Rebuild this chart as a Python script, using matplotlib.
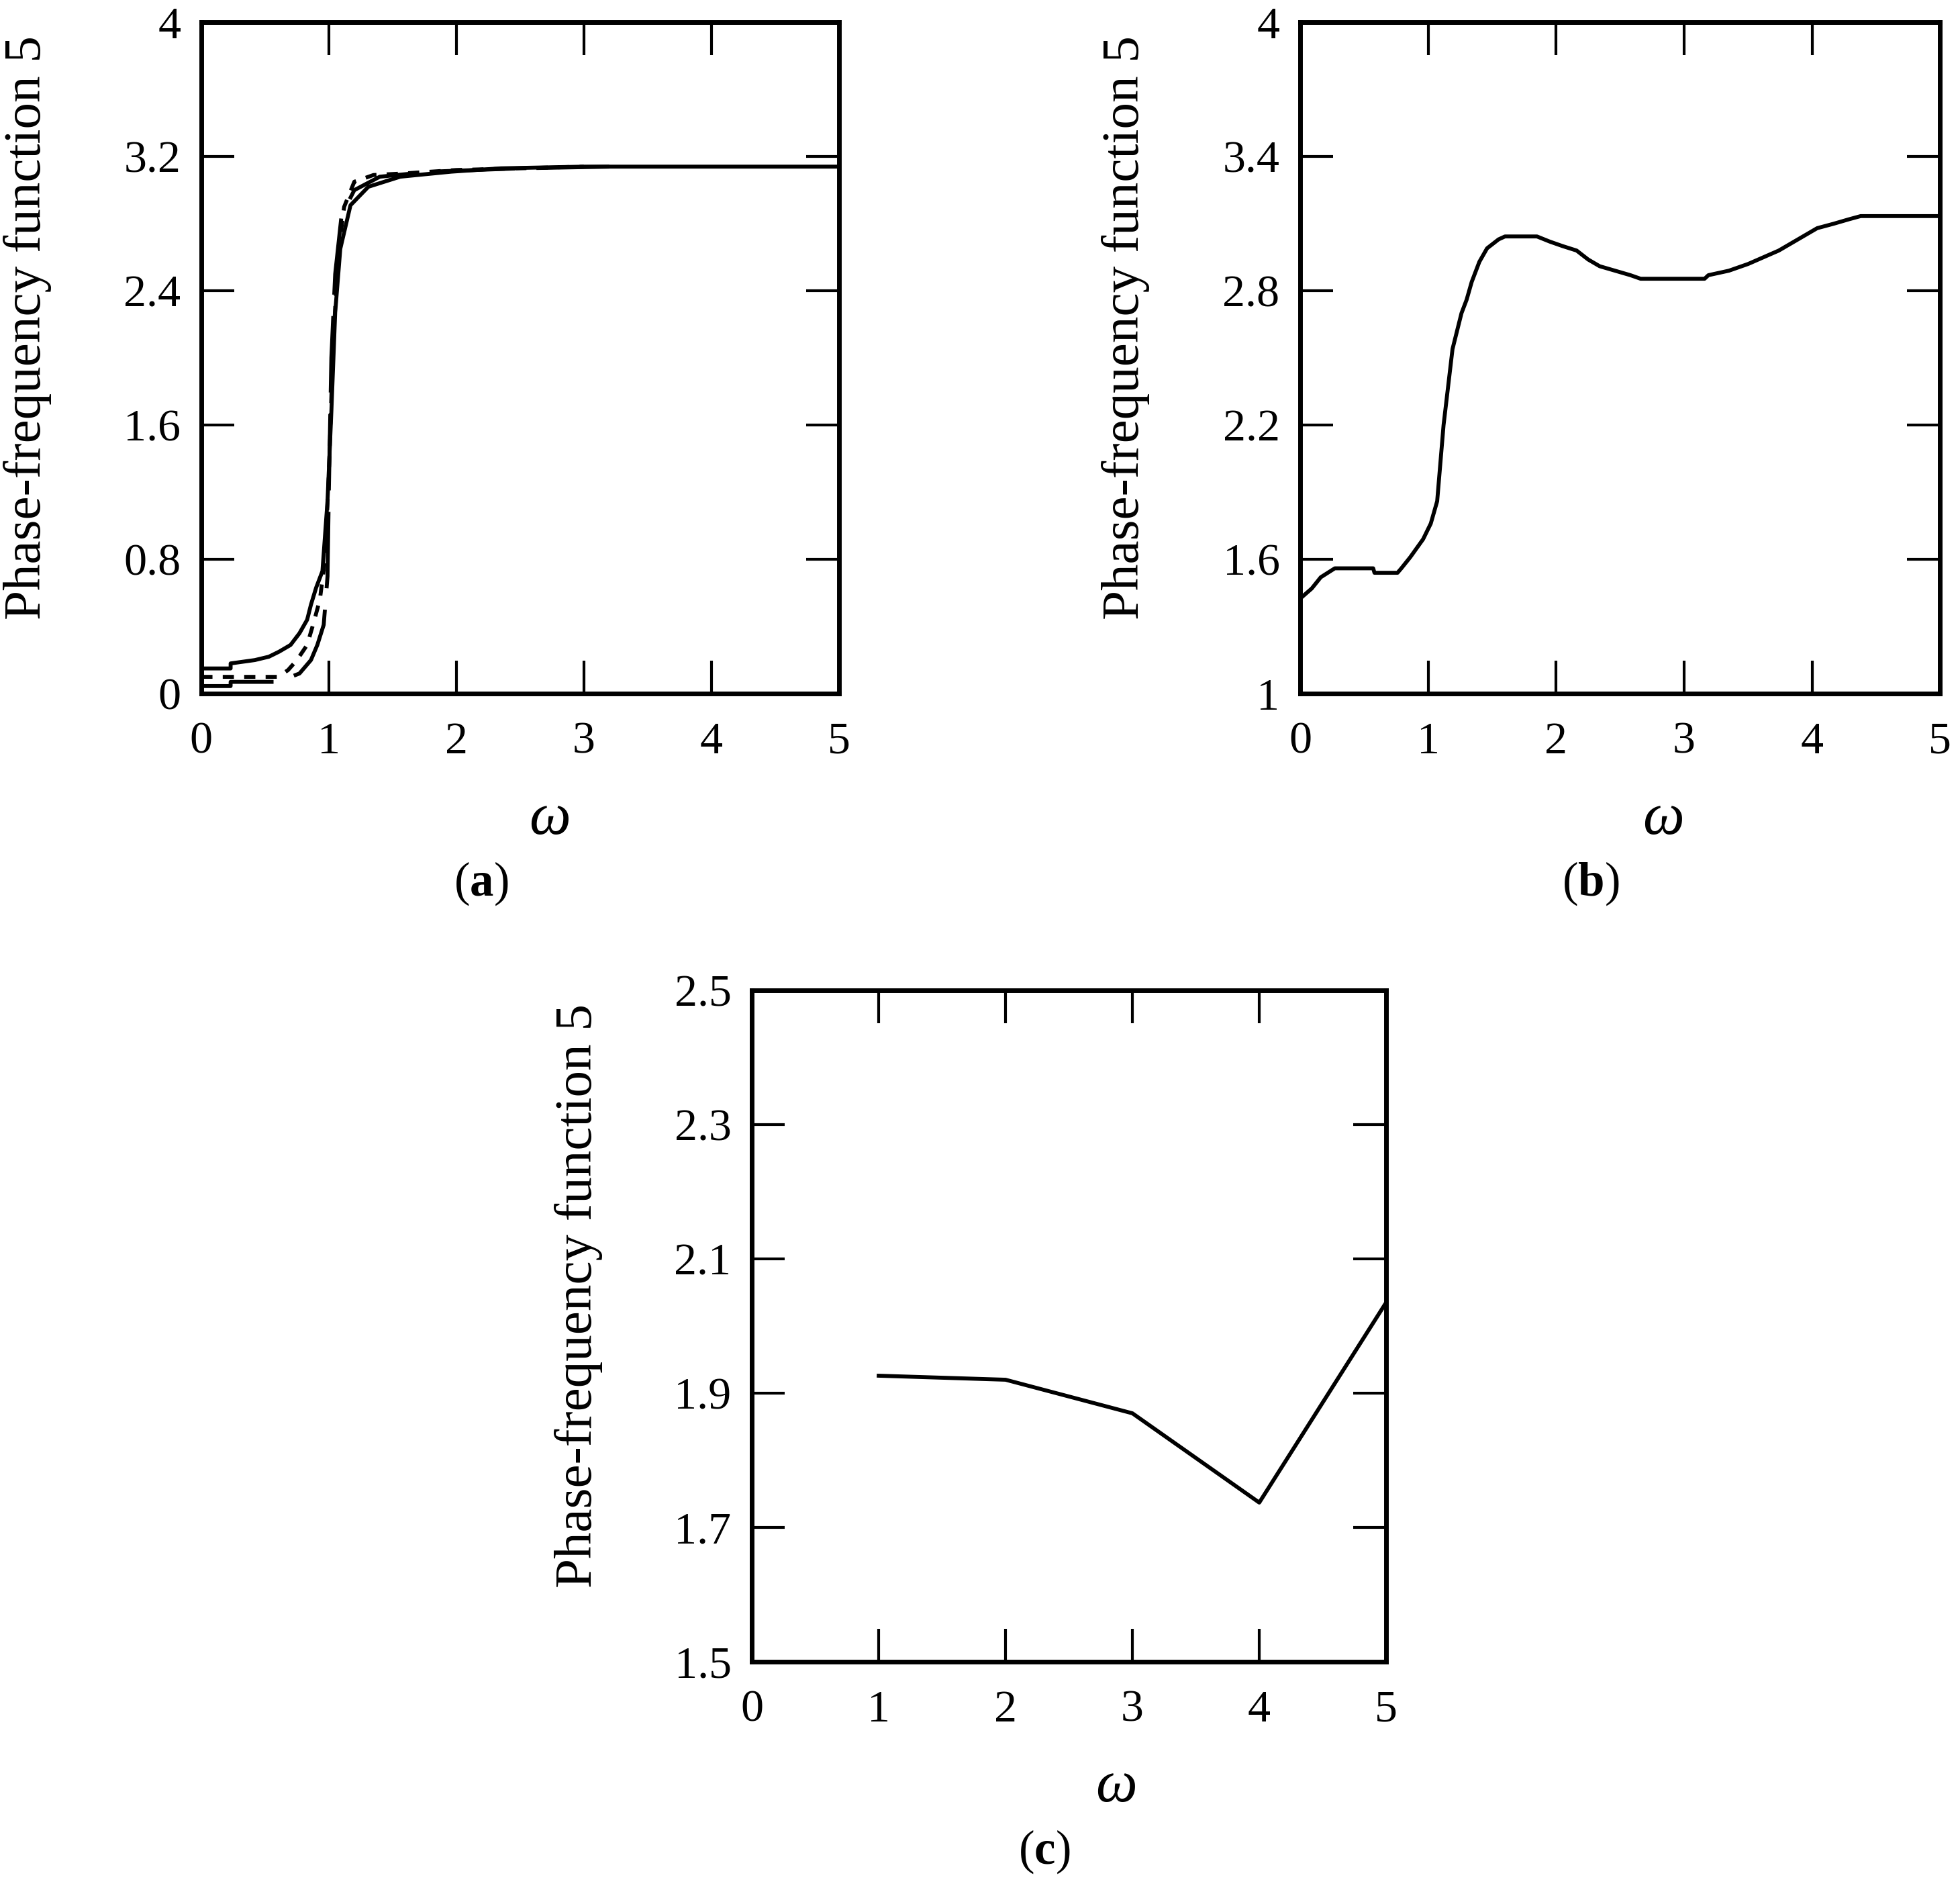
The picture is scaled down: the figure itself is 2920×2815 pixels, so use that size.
import numpy as np
import matplotlib
matplotlib.use("Agg")
import matplotlib.pyplot as plt

plt.rcParams['font.family'] = ['Liberation Serif', 'DejaVu Serif']
plt.rcParams['mathtext.fontset'] = 'custom'
plt.rcParams['mathtext.rm'] = 'Liberation Serif'
plt.rcParams['mathtext.it'] = 'Liberation Serif:italic'
plt.rcParams['mathtext.bf'] = 'Liberation Serif:bold'
plt.rcParams['lines.scale_dashes'] = False

# ---- data ----
# panel (a): three curves
a_solid_x = [0, 0.23, 0.23, 0.42, 0.53, 0.61, 0.70, 0.77, 0.83, 0.86, 0.90, 0.95, 0.99, 1.02, 1.05, 1.09, 1.17, 1.31, 1.56, 1.96, 2.35, 3.0, 5.0]
a_solid_y = [0.15, 0.15, 0.18, 0.20, 0.22, 0.25, 0.29, 0.36, 0.44, 0.53, 0.63, 0.73, 1.15, 1.68, 2.27, 2.65, 2.91, 3.02, 3.08, 3.11, 3.13, 3.14, 3.14]
a_short_x = [0, 0.6, 0.68, 0.75, 0.83, 0.88, 0.93, 0.97, 1.0, 1.03, 1.07, 1.12, 1.2, 1.35, 1.6, 2.0, 2.5, 3.0]
a_short_y = [0.10, 0.10, 0.14, 0.20, 0.29, 0.42, 0.56, 0.8, 1.3, 2.0, 2.6, 2.9, 3.05, 3.09, 3.10, 3.12, 3.13, 3.14]
a_long_x = [0, 0.23, 0.23, 0.6, 0.77, 0.86, 0.91, 0.96, 0.99, 1.0, 1.02, 1.05, 1.1, 1.2, 1.4, 1.8, 2.5, 3.2]
a_long_y = [0.045, 0.045, 0.07, 0.07, 0.12, 0.20, 0.29, 0.41, 0.7, 1.2, 2.0, 2.5, 2.85, 3.0, 3.08, 3.11, 3.13, 3.14]

# panel (b)
b_x = [0, 0.09, 0.16, 0.27, 0.57, 0.58, 0.76, 0.79, 0.86, 0.91, 0.96, 1.02, 1.07, 1.12, 1.19, 1.26, 1.30, 1.34, 1.40,
       1.46, 1.55, 1.60, 1.85, 1.95, 2.05, 2.16, 2.25, 2.34, 2.46, 2.58, 2.66, 3.16, 3.19, 3.35, 3.50, 3.62, 3.74,
       3.83, 3.92, 4.04, 4.17, 4.29, 4.38, 5.0]
b_y = [1.425, 1.47, 1.52, 1.56, 1.56, 1.54, 1.54, 1.56, 1.61, 1.65, 1.69, 1.76, 1.86, 2.2, 2.54, 2.70, 2.76, 2.84, 2.93,
       2.99, 3.03, 3.043, 3.043, 3.02, 3.0, 2.98, 2.94, 2.91, 2.89, 2.87, 2.854, 2.854, 2.87, 2.89, 2.92, 2.95, 2.98,
       3.01, 3.04, 3.08, 3.10, 3.12, 3.134, 3.134]

# panel (c)
c_x = [1, 2, 3, 4, 5]
c_y = [1.926, 1.92, 1.87, 1.737, 2.035]

x_ticks = [0, 1, 2, 3, 4, 5]
a_yticks = [0, 0.8, 1.6, 2.4, 3.2, 4]
a_ylabels = ['0', '0.8', '1.6', '2.4', '3.2', '4']
b_yticks = [1, 1.6, 2.2, 2.8, 3.4, 4]
b_ylabels = ['1', '1.6', '2.2', '2.8', '3.4', '4']
c_yticks = [1.5, 1.7, 1.9, 2.1, 2.3, 2.5]
c_ylabels = ['1.5', '1.7', '1.9', '2.1', '2.3', '2.5']

ylab = 'Phase-frequency function 5'
fs = 49
lw = 4.2

fig = plt.figure(figsize=(29.2, 28.15), dpi=100)
ax_a = fig.add_axes([0.1027, 0.633, 0.3253, 0.3552])
ax_b = fig.add_axes([0.6634, 0.633, 0.3264, 0.3552])
ax_c = fig.add_axes([0.3836, 0.1208, 0.3236, 0.3552])


def style(ax, yticks, ylabels, ylim, tag, om_x, tag_x):
    ax.set_xlim(0, 5)
    ax.set_ylim(*ylim)
    ax.set_xticks(x_ticks)
    ax.set_xticklabels([str(t) for t in x_ticks])
    ax.set_yticks(yticks)
    ax.set_yticklabels(ylabels)
    for s in ax.spines.values():
        s.set_linewidth(5)
    ax.tick_params(direction='in', length=35, width=3, top=True, right=True,
                   labelsize=fs)
    ax.tick_params(axis='x', pad=30)
    ax.tick_params(axis='y', pad=22)
    ax.set_ylabel(ylab, fontsize=57)
    ax.yaxis.set_label_coords(-0.235, 0.545)
    ax.text(om_x, -0.187, 'ω', transform=ax.transAxes, fontsize=fs + 14,
            style='italic', ha='center', va='center')
    ax.text(tag_x, -0.283, r'($\mathbf{' + tag + '}$)', transform=ax.transAxes,
            fontsize=fs + 2, ha='center', va='center')


ax_a.plot(a_solid_x, a_solid_y, color='black', lw=lw)
ax_a.plot(a_short_x, a_short_y, color='black', lw=lw, linestyle=(0, (12, 11)))
ax_a.plot(a_long_x, a_long_y, color='black', lw=lw, linestyle=(0, (82, 23)))
style(ax_a, a_yticks, a_ylabels, (0, 4), 'a', 0.546, 0.439)

ax_b.plot(b_x, b_y, color='black', lw=lw)
style(ax_b, b_yticks, b_ylabels, (1, 4), 'b', 0.567, 0.454)

ax_c.plot(c_x, c_y, color='black', lw=lw)
style(ax_c, c_yticks, c_ylabels, (1.5, 2.5), 'c', 0.575, 0.461)

fig.savefig('out.png', dpi=100, facecolor='white')
